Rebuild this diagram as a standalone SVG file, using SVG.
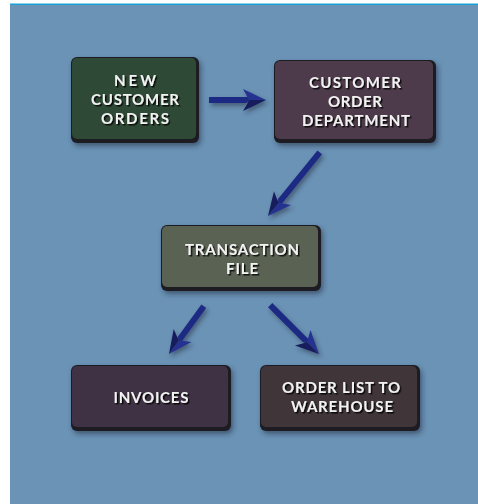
<svg xmlns="http://www.w3.org/2000/svg" xmlns:xlink="http://www.w3.org/1999/xlink" width="478" height="504" viewBox="0 0 478 504">
  <defs>
    <style>
      .label { font-family: Lato, "Open Sans", "Liberation Sans", sans-serif; font-weight: bold; font-size: 15px; fill: #f2f2f2; text-anchor: middle; filter: url(#txtShadow); }
      .edge { fill: #1b1d22; }
      .shaft { stroke: #1e2a84; stroke-width: 6; stroke-linecap: butt; }
    </style>
    <filter id="txtShadow" x="-10%" y="-30%" width="120%" height="160%">
      <feDropShadow dx="1.5" dy="1.5" stdDeviation="0.7" flood-color="#000" flood-opacity="0.85"/>
    </filter>
    <filter id="boxShadow" x="-10%" y="-10%" width="125%" height="130%">
      <feDropShadow dx="2" dy="3" stdDeviation="2.5" flood-color="#1d2c3c" flood-opacity="0.55"/>
    </filter>
    <filter id="arrowShadow" x="-30%" y="-30%" width="160%" height="160%">
      <feDropShadow dx="2" dy="3" stdDeviation="2" flood-color="#1d2c3c" flood-opacity="0.5"/>
    </filter>
    <!-- 3D arrowhead, tip at origin, pointing along +x -->
    <g id="head">
      <polygon points="0,0 -23,-11 -17,0" fill="#26328f"/>
      <polygon points="0,0 -17,0 -23,11" fill="#141d5c"/>
      <polygon points="-17,0 -23,11 -19,3" fill="#9aa6c8"/>
    </g>
  </defs>

  <!-- page and panel -->
  <rect x="0" y="0" width="478" height="504" fill="#ffffff"/>
  <rect x="10" y="4" width="468" height="500" fill="#6b93b5"/>
  <rect x="10" y="3.5" width="468" height="1.5" fill="#1aa0d6"/>

  <!-- connectors -->
  <g id="connectors" filter="url(#arrowShadow)">
    <g transform="translate(266,100)">
      <line class="shaft" x1="-57" y1="0" x2="-17" y2="0"/>
      <use xlink:href="#head"/>
    </g>
    <g transform="translate(268,216) rotate(129.1)">
      <line class="shaft" x1="-82" y1="0" x2="-17" y2="0"/>
      <use xlink:href="#head"/>
    </g>
    <g transform="translate(169,354) rotate(126.1)">
      <line class="shaft" x1="-59" y1="0" x2="-17" y2="0"/>
      <use xlink:href="#head"/>
    </g>
    <g transform="translate(319,354) rotate(45)">
      <line class="shaft" x1="-69" y1="0" x2="-17" y2="0"/>
      <use xlink:href="#head"/>
    </g>
  </g>

  <!-- nodes -->
  <g id="new-customer-orders" filter="url(#boxShadow)">
    <rect class="edge" x="71" y="57" width="128" height="86" rx="6"/>
    <rect x="72" y="58" width="124" height="81" rx="5" fill="#2f4a35"/>
    <text class="label" x="135" y="86" textLength="42">NEW</text>
    <text class="label" x="135" y="105" textLength="88">CUSTOMER</text>
    <text class="label" x="135" y="124" textLength="68">ORDERS</text>
  </g>

  <g id="customer-order-department" filter="url(#boxShadow)">
    <rect class="edge" x="274" y="60" width="162" height="83" rx="6"/>
    <rect x="275" y="61" width="158" height="78" rx="5" fill="#4e3b4b"/>
    <text class="label" x="355" y="88" textLength="92">CUSTOMER</text>
    <text class="label" x="355" y="107" textLength="54">ORDER</text>
    <text class="label" x="356" y="126" textLength="108">DEPARTMENT</text>
  </g>

  <g id="transaction-file" filter="url(#boxShadow)">
    <rect class="edge" x="161" y="225" width="160" height="66" rx="6"/>
    <rect x="162" y="226" width="156" height="61" rx="5" fill="#5a6453"/>
    <text class="label" x="242" y="255" textLength="114">TRANSACTION</text>
    <text class="label" x="242" y="274" textLength="32">FILE</text>
  </g>

  <g id="invoices" filter="url(#boxShadow)">
    <rect class="edge" x="71" y="365" width="160" height="66" rx="6"/>
    <rect x="72" y="366" width="156" height="61" rx="5" fill="#403344"/>
    <text class="label" x="151" y="403" textLength="75">INVOICES</text>
  </g>

  <g id="order-list-to-warehouse" filter="url(#boxShadow)">
    <rect class="edge" x="260" y="365" width="160" height="66" rx="6"/>
    <rect x="261" y="366" width="156" height="61" rx="5" fill="#3f3538"/>
    <text class="label" x="341" y="393" textLength="118">ORDER LIST TO</text>
    <text class="label" x="342" y="412" textLength="102">WAREHOUSE</text>
  </g>
</svg>
